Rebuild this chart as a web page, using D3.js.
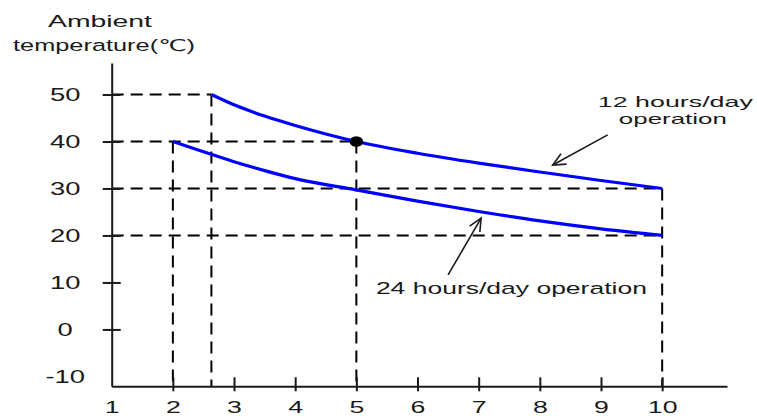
<!DOCTYPE html>
<html>
<head>
<meta charset="utf-8">
<script src="https://cdn.jsdelivr.net/npm/d3@7"></script>
<style>
html,body{margin:0;padding:0;background:#fff;}
svg{display:block;}
</style>
</head>
<body>
<svg id="chart" width="757" height="416"></svg>
<script>
// ---- data ----
const xTicks = [1, 2, 3, 4, 5, 6, 7, 8, 9, 10];
const xLabels = ["1", "2", "3", "4", "5", "6", "7", "8", "9", "10"];
const yTicks = [50, 40, 30, 20, 10, 0, -10];
const yLabels = ["50", "40", "30", "20", "10", "0", "-10"];

const hours12X = [2.63, 3, 3.5, 4, 4.5, 5, 6, 7, 8, 9, 10];
const hours12T = [50, 47.8, 45.4, 43.4, 41.6, 40, 37.5, 35.4, 33.5, 31.7, 30];
const hours24X = [2, 2.5, 3, 3.5, 4, 5, 6, 7, 8, 9, 10];
const hours24T = [40, 37.8, 35.7, 33.8, 32.1, 29.7, 27.3, 25.1, 23.1, 21.4, 20];

const guideHx = [2.63, 5, 10, 10];   // horizontal guide ends (x value)
const guideHy = [50, 40, 30, 20];
const guideVx = [2, 2.63, 5, 10];    // vertical guide tops
const guideVy = [40, 50, 40, 30];

const markX = [5];
const markT = [40];

const titleLines = ["Ambient", "temperature(\u2103)"];
const label12 = ["12 hours/day", "operation"];
const label24 = ["24  hours/day operation"];

// ---- layout ----
const svg = d3.select("#chart");
const x = d3.scaleLinear().domain([1, 11.06]).range([111.7, 727]);
const y = d3.scaleLinear().domain([-12.1, 56.7]).range([386.3, 63]);
const ink = "#1a1a1a";
const fontFam = "'Liberation Sans', Arial, 'DejaVu Sans', sans-serif";
const tickScale = 1.48;

// guides (dashed)
const gGuide = svg.append("g")
  .attr("stroke", "#000").attr("stroke-width", 2)
  .attr("stroke-dasharray", "12,7").attr("fill", "none");
guideHx.forEach((gx, i) => {
  gGuide.append("line")
    .attr("x1", x(1)).attr("x2", x(gx))
    .attr("y1", y(guideHy[i])).attr("y2", y(guideHy[i]));
});
guideVx.forEach((gx, i) => {
  gGuide.append("line")
    .attr("x1", x(gx)).attr("x2", x(gx))
    .attr("y1", y(guideVy[i])).attr("y2", y.range()[0]);
});

// axes
const yAxis = d3.axisLeft(y).tickValues(yTicks)
  .tickFormat((d, i) => yLabels[i]).tickSizeInner(0).tickSizeOuter(0);
const gy = svg.append("g").attr("transform", `translate(${x(1)},0)`).call(yAxis);
gy.select(".domain").attr("stroke", ink).attr("stroke-width", 2);
gy.selectAll(".tick line").attr("x1", -9).attr("x2", 9)
  .attr("stroke", ink).attr("stroke-width", 2)
  .attr("display", d => d === -10 ? "none" : null);
gy.selectAll(".tick text")
  .attr("x", 0).attr("dy", "0.33em")
  .attr("text-anchor", "middle")
  .attr("transform", `translate(-46.5,0) scale(${tickScale},1)`)
  .attr("fill", ink).style("font-family", fontFam).style("font-size", "18.5px");

const xAxis = d3.axisBottom(x).tickValues(xTicks)
  .tickFormat((d, i) => xLabels[i]).tickSizeInner(0).tickSizeOuter(0);
const gx = svg.append("g").attr("transform", `translate(0,${y.range()[0]})`).call(xAxis);
gx.select(".domain").attr("stroke", ink).attr("stroke-width", 2);
gx.selectAll(".tick line").attr("y1", -9).attr("y2", 5)
  .attr("stroke", ink).attr("stroke-width", 2)
  .attr("display", d => d === 1 ? "none" : null);
gx.selectAll(".tick text")
  .attr("y", 0).attr("dy", null)
  .attr("text-anchor", "middle")
  .attr("transform", `translate(0,26.3) scale(${tickScale * 1.06},1)`)
  .attr("fill", ink).style("font-family", fontFam).style("font-size", "17px");

// curves
const line = d3.line().x(d => x(d[0])).y(d => y(d[1])).curve(d3.curveMonotoneX);
const s12 = hours12X.map((v, i) => [v, hours12T[i]]);
const s24 = hours24X.map((v, i) => [v, hours24T[i]]);
[s12, s24].forEach(s => {
  svg.append("path").datum(s).attr("d", line)
    .attr("fill", "none").attr("stroke", "#0000ff").attr("stroke-width", 3.2);
});

// marker
svg.selectAll("ellipse.mark").data(markX).join("ellipse").attr("class", "mark")
  .attr("cx", d => x(d)).attr("cy", (d, i) => y(markT[i]))
  .attr("rx", 6.8).attr("ry", 5.3).attr("fill", "#000");

// multi-line text helper: lines = [[str, cx, baseline, width], ...]
function txt(lines, size) {
  const t = svg.append("text")
    .attr("fill", ink).style("font-family", fontFam).style("font-size", size + "px");
  lines.forEach(([str, cx, base, width]) => {
    t.append("tspan")
      .attr("x", cx - width / 2).attr("y", base)
      .attr("textLength", width).attr("lengthAdjust", "spacingAndGlyphs")
      .text(str);
  });
}

// axis title
txt([[titleLines[0], 100, 27, 104], [titleLines[1], 104, 50.5, 182]], 16.3);

// annotations (positions in data units)
txt([[label12[0], x(10.215), y(47.35), 155]], 15);
txt([[label12[1], x(10.175), y(43.75), 108]], 15);
txt([[label24[0], x(7.535), y(7.45), 271]], 16.3);

function arrow(x0, y0, x1, y1) {
  const px0 = x(x0), py0 = y(y0), px1 = x(x1), py1 = y(y1);
  const ang = Math.atan2(py0 - py1, px0 - px1);
  const L = 14, a = 25 * Math.PI / 180;
  const g = svg.append("g").attr("stroke", ink).attr("stroke-width", 1.6).attr("fill", "none");
  g.append("line").attr("x1", px0).attr("y1", py0).attr("x2", px1).attr("y2", py1);
  g.append("path").attr("d",
    `M${px1 + L * Math.cos(ang + a)},${py1 + L * Math.sin(ang + a)}L${px1},${py1}L${px1 + L * Math.cos(ang - a)},${py1 + L * Math.sin(ang - a)}`);
}
arrow(9.11, 41.4, 8.21, 35.0);
arrow(6.50, 11.6, 7.04, 23.7);
</script>
</body>
</html>
